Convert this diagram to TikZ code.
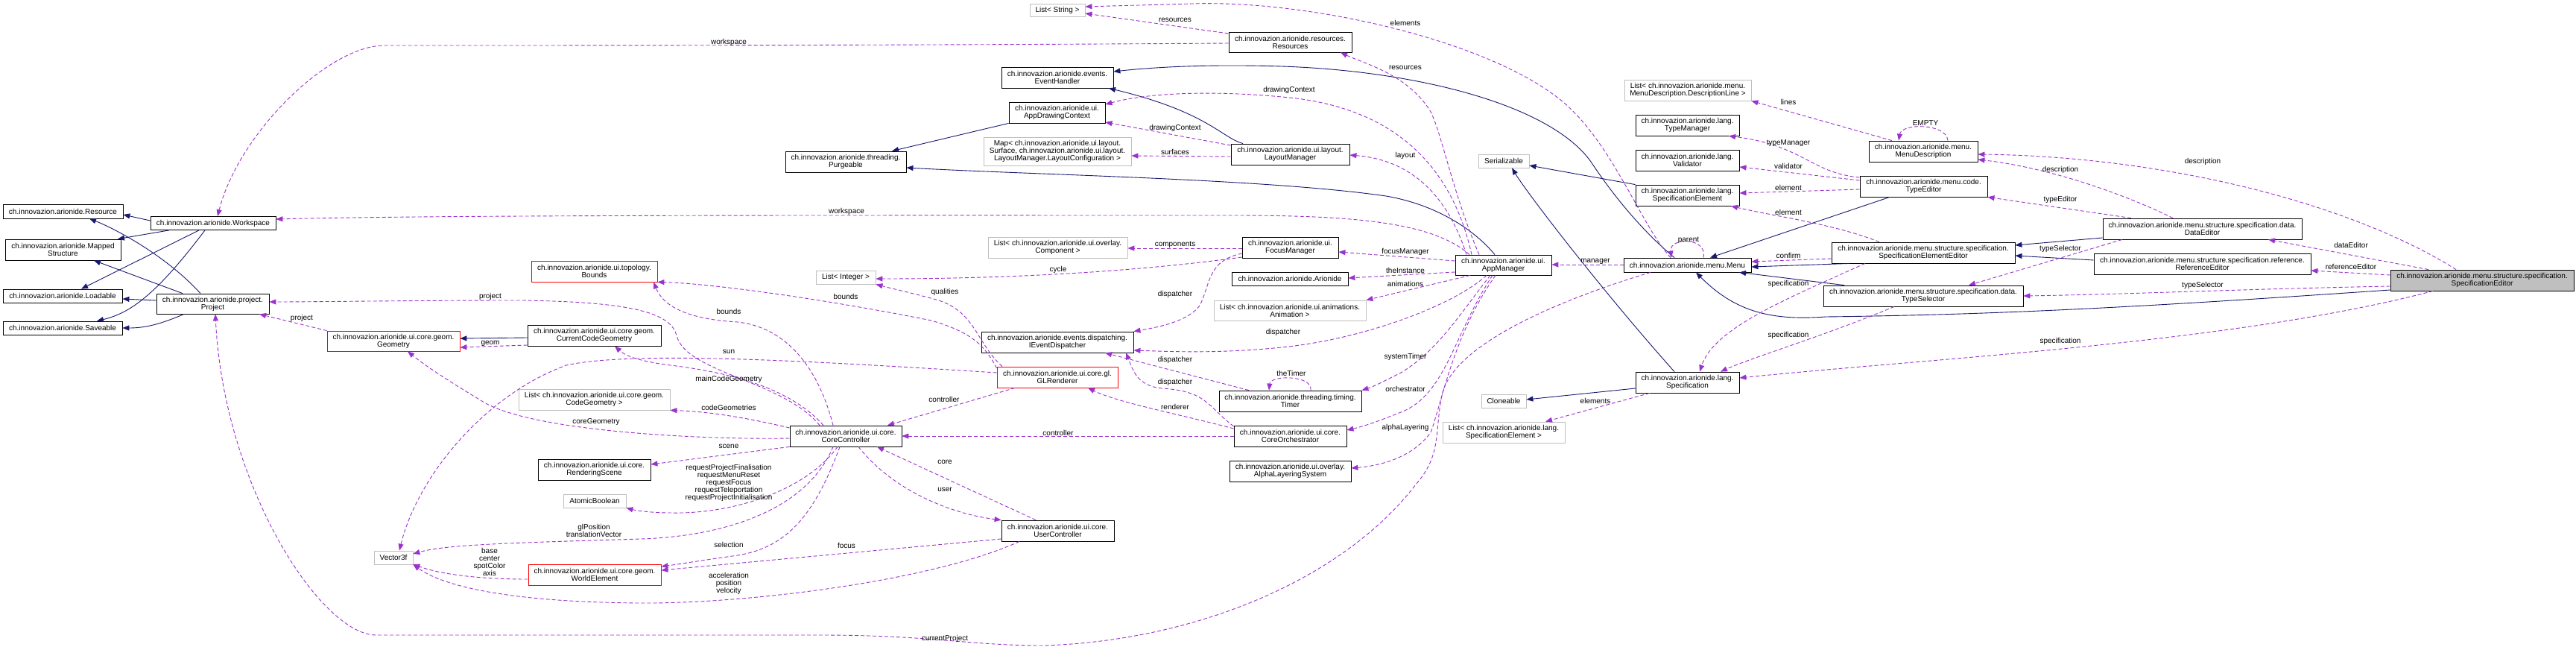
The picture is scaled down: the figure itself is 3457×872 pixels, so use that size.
\documentclass[tikz,border=0pt]{standalone}
\usepackage{fontspec}
\setmainfont{Liberation Sans}
\usetikzlibrary{arrows.meta}
\definecolor{navy}{HTML}{191970}
\definecolor{purp}{HTML}{9A32CD}
\definecolor{grey75}{HTML}{BFBFBF}
\newcommand\lab{\fontsize{10}{10}\selectfont}
\newcommand\cn[6]{\node[#1,minimum width=#4pt,minimum height=#5pt] (#2) at (#3) {#6};}
\tikzset{
 cls/.style={draw=black, line width=0.8pt, fill=white, inner sep=0pt, align=center, font=\lab},
 gcls/.style={cls, draw=grey75},
 rcls/.style={cls, draw=red},
 scls/.style={cls, fill=grey75},
 inh/.style={draw=navy, line width=0.9pt, -{Triangle[length=9pt,width=7pt]}},
 dep/.style={draw=purp, line width=0.9pt, dash pattern=on 5pt off 3pt, -{Triangle[length=9pt,width=7pt]}},
 elab/.style={font=\lab, align=center, inner sep=0pt},
}
\begin{document}
\begin{tikzpicture}[x=1pt,y=-1pt]
\fill[white] (0,0) rectangle (3457,872);
\useasboundingbox (0,0) rectangle (3457,872);
\cn{cls}{Resource}{84.5,283.5}{161}{19}{ch.innovazion.arionide.Resource}
\cn{cls}{Workspace}{286,299.5}{168}{18}{ch.innovazion.arionide.Workspace}
\cn{cls}{MappedStructure}{84.5,335}{155}{28}{ch.innovazion.arionide.Mapped\\Structure}
\cn{cls}{Loadable}{84,397}{160}{18}{ch.innovazion.arionide.Loadable}
\cn{cls}{Saveable}{84,440}{160}{18}{ch.innovazion.arionide.Saveable}
\cn{cls}{Project}{285.5,407.5}{151}{27}{ch.innovazion.arionide.project.\\Project}
\cn{rcls}{Geometry}{528,457.5}{178}{27}{ch.innovazion.arionide.ui.core.geom.\\Geometry}
\cn{cls}{CurrentCodeGeometry}{797.5,450}{179}{28}{ch.innovazion.arionide.ui.core.geom.\\CurrentCodeGeometry}
\cn{rcls}{Bounds}{797.5,364}{169}{28}{ch.innovazion.arionide.ui.topology.\\Bounds}
\cn{gcls}{ListCodeGeometry}{797.5,536}{203}{28}{List< ch.innovazion.arionide.ui.core.geom.\\CodeGeometry >}
\cn{gcls}{Vector3f}{528,748}{52}{18}{Vector3f}
\cn{cls}{RenderingScene}{797.5,630}{151}{28}{ch.innovazion.arionide.ui.core.\\RenderingScene}
\cn{gcls}{AtomicBoolean}{798,672}{84}{18}{AtomicBoolean}
\cn{rcls}{WorldElement}{798,771}{178}{28}{ch.innovazion.arionide.ui.core.geom.\\WorldElement}
\cn{gcls}{ListString}{1419,13.5}{74}{17}{List< String >}
\cn{cls}{Resources}{1731.5,56.5}{165}{27}{ch.innovazion.arionide.resources.\\Resources}
\cn{cls}{EventHandler}{1419,104}{150}{28}{ch.innovazion.arionide.events.\\EventHandler}
\cn{cls}{AppDrawingContext}{1418.5,151}{129}{28}{ch.innovazion.arionide.ui.\\AppDrawingContext}
\cn{gcls}{MapSurf}{1419,203}{198}{38}{Map< ch.innovazion.arionide.ui.layout.\\Surface, ch.innovazion.arionide.ui.layout.\\LayoutManager.LayoutConfiguration >}
\cn{cls}{Purgeable}{1135,217}{162}{28}{ch.innovazion.arionide.threading.\\Purgeable}
\cn{cls}{LayoutManager}{1731.5,207}{159}{28}{ch.innovazion.arionide.ui.layout.\\LayoutManager}
\cn{gcls}{ListComponent}{1419.5,332}{187}{28}{List< ch.innovazion.arionide.ui.overlay.\\Component >}
\cn{cls}{FocusManager}{1731.5,332}{129}{28}{ch.innovazion.arionide.ui.\\FocusManager}
\cn{gcls}{ListInteger}{1135,372}{80}{18}{List< Integer >}
\cn{cls}{Arionide}{1731,374}{156}{18}{ch.innovazion.arionide.Arionide}
\cn{gcls}{ListAnimation}{1731,416.5}{204}{27}{List< ch.innovazion.arionide.ui.animations.\\Animation >}
\cn{cls}{IEventDispatcher}{1419,459}{204}{28}{ch.innovazion.arionide.events.dispatching.\\IEventDispatcher}
\cn{rcls}{GLRenderer}{1419,506}{162}{28}{ch.innovazion.arionide.ui.core.gl.\\GLRenderer}
\cn{cls}{Timer}{1731.5,538}{191}{28}{ch.innovazion.arionide.threading.timing.\\Timer}
\cn{cls}{CoreController}{1135,585}{150}{28}{ch.innovazion.arionide.ui.core.\\CoreController}
\cn{cls}{CoreOrchestrator}{1731.5,585}{151}{28}{ch.innovazion.arionide.ui.core.\\CoreOrchestrator}
\cn{cls}{AlphaLayering}{1731.5,632}{163}{28}{ch.innovazion.arionide.ui.overlay.\\AlphaLayeringSystem}
\cn{cls}{UserController}{1419.5,712}{151}{28}{ch.innovazion.arionide.ui.core.\\UserController}
\cn{cls}{AppManager}{2017.5,355.5}{129}{27}{ch.innovazion.arionide.ui.\\AppManager}
\cn{gcls}{Serializable}{2018,216}{68}{18}{Serializable}
\cn{gcls}{ListDescLine}{2265,121}{170}{28}{List< ch.innovazion.arionide.menu.\\MenuDescription.DescriptionLine >}
\cn{cls}{TypeManager}{2264.5,168}{139}{28}{ch.innovazion.arionide.lang.\\TypeManager}
\cn{cls}{Validator}{2264.5,215}{139}{28}{ch.innovazion.arionide.lang.\\Validator}
\cn{cls}{SpecificationElement}{2264.5,262}{139}{28}{ch.innovazion.arionide.lang.\\SpecificationElement}
\cn{cls}{MenuDescription}{2581,203}{146}{28}{ch.innovazion.arionide.menu.\\MenuDescription}
\cn{cls}{TypeEditor}{2581.5,250}{171}{28}{ch.innovazion.arionide.menu.code.\\TypeEditor}
\cn{cls}{Menu}{2264.5,355.5}{171}{19}{ch.innovazion.arionide.menu.Menu}
\cn{cls}{SpecElementEditor}{2581,339}{246}{28}{ch.innovazion.arionide.menu.structure.specification.\\SpecificationElementEditor}
\cn{cls}{TypeSelector}{2581,397}{268}{28}{ch.innovazion.arionide.menu.structure.specification.data.\\TypeSelector}
\cn{cls}{Specification}{2264.5,513}{139}{28}{ch.innovazion.arionide.lang.\\Specification}
\cn{gcls}{Cloneable}{2018,538}{60}{18}{Cloneable}
\cn{gcls}{ListSpecElement}{2018,580}{164}{28}{List< ch.innovazion.arionide.lang.\\SpecificationElement >}
\cn{cls}{DataEditor}{2955.5,307}{267}{28}{ch.innovazion.arionide.menu.structure.specification.data.\\DataEditor}
\cn{cls}{ReferenceEditor}{2955.5,354}{291}{28}{ch.innovazion.arionide.menu.structure.specification.reference.\\ReferenceEditor}
\cn{scls}{SpecEditor}{3331,376}{246}{28}{ch.innovazion.arionide.menu.structure.specification.\\SpecificationEditor}
% ---------- inheritance ----------
\draw[inh] (Workspace.west |- 0,296) -- (Resource.east |- 0,288);
\draw[inh] (Workspace.south -| 227,0) -- (MappedStructure.north -| 158,0);
\draw[inh] (Workspace.south -| 267,0) -- (Loadable.north -| 109,0);
\draw[inh] (Workspace.south -| 275,0) .. controls (210,395) and (175,420) .. (Saveable.north -| 130,0);
\draw[inh] (Project.north -| 269,0) .. controls (220,340) and (150,305) .. (Resource.south -| 120,0);
\draw[inh] (Project.north -| 245,0) -- (MappedStructure.south -| 126,0);
\draw[inh] (Project.west |- 0,403) -- (Loadable.east |- 0,401);
\draw[inh] (Project.south -| 247,0) .. controls (215,435) and (195,440) .. (Saveable.east |- 0,440);
\draw[inh] (AppDrawingContext.south west) -- (Purgeable.north -| 1197,0);
\draw[inh] (LayoutManager.north -| 1668,0) .. controls (1640,185) and (1620,150) .. (EventHandler.south -| 1488,0);
\draw[inh] (Menu.north -| 2247,0) .. controls (2210,315) and (2170,270) .. (2135,217) .. controls (2080,140) and (1900,95) .. (1720,89) .. controls (1620,86) and (1550,90) .. (EventHandler.east |- 0,96);
\draw[inh] (AppManager.north -| 2006,0) .. controls (1980,310) and (1930,275) .. (1860,263) .. controls (1700,240) and (1400,235) .. (Purgeable.east |- 0,225);
\draw[inh] (Specification.north -| 2247,0) .. controls (2150,390) and (2050,260) .. (Serializable.south -| 2029,0);
\draw[inh] (SpecificationElement.north west) -- (Serializable.east |- 0,222);
\draw[inh] (Specification.west |- 0,521) -- (Cloneable.east |- 0,536);
\draw[inh] (TypeEditor.south -| 2536,0) -- (Menu.north -| 2295,0);
\draw[inh] (SpecElementEditor.south -| 2483,0) -- (Menu.east |- 0,358);
\draw[inh] (TypeSelector.north -| 2475,0) -- (Menu.south -| 2334,0);
\draw[inh] (SpecEditor.west |- 0,389) .. controls (2900,410) and (2700,422) .. (2450,425) .. controls (2380,430) and (2330,420) .. (Menu.south -| 2276,0);
\draw[inh] (DataEditor.west |- 0,319) -- (SpecElementEditor.east |- 0,329);
\draw[inh] (ReferenceEditor.west |- 0,349) -- (SpecElementEditor.east |- 0,343);
\draw[inh] (CurrentCodeGeometry.west |- 0,453) -- (Geometry.east |- 0,454);
% ---------- usage ----------
\draw[dep] (Resources.west |- 0,45) -- (ListString.east |- 0,18);
\node[elab] (l1) at (1577,27) {resources};
\draw[dep] (Menu.north -| 2242,0) .. controls (2200,300) and (2160,180) .. (2085,127) .. controls (1980,50) and (1750,0) .. (1600,5) .. controls (1530,7) and (1490,8) .. (ListString.east |- 0,9);
\node[elab] (l2) at (1886,31) {elements};
\draw[dep] (AppManager.north -| 1985,0) .. controls (1950,260) and (1935,180) .. (1920,150) .. controls (1890,100) and (1830,85) .. (Resources.south -| 1799,0);
\node[elab] (l3) at (1886,91) {resources};
\draw[dep] (AppManager.north -| 1975,0) .. controls (1950,230) and (1880,150) .. (1740,132) .. controls (1650,122) and (1550,122) .. (AppDrawingContext.east |- 0,140);
\node[elab] (l4) at (1730,121) {drawingContext};
\draw[dep] (LayoutManager.west |- 0,195) -- (AppDrawingContext.east |- 0,164);
\node[elab] (l5) at (1577,172) {drawingContext};
\draw[dep] (LayoutManager.west |- 0,210) -- (MapSurf.east |- 0,209);
\node[elab] (l6) at (1577,204) {surfaces};
\draw[dep] (AppManager.north -| 1968,0) .. controls (1945,270) and (1900,215) .. (LayoutManager.east |- 0,208);
\node[elab] (l7) at (1886,209) {layout};
\draw[dep] (Resources.west |- 0,58) .. controls (1200,61) and (800,61) .. (516,61) .. controls (440,61) and (320,180) .. (Workspace.north -| 292,0);
\node[elab] (l8) at (978,57) {workspace};
\draw[dep] (AppManager.north -| 1972,0) .. controls (1920,295) and (1800,289) .. (1650,289) .. controls (1200,289) and (600,288) .. (Workspace.east |- 0,294);
\node[elab] (l9) at (1136,284) {workspace};
\draw[dep] (FocusManager.west |- 0,333) -- (ListComponent.east |- 0,333);
\node[elab] (l10) at (1577,328) {components};
\draw[dep] (FocusManager.west |- 0,345) .. controls (1520,365) and (1350,374) .. (ListInteger.east |- 0,374);
\node[elab] (l11) at (1420,362) {cycle};
\draw[dep] (FocusManager.west |- 0,340) .. controls (1620,350) and (1625,380) .. (1610,410) .. controls (1595,430) and (1560,438) .. (IEventDispatcher.north east);
\node[elab] (l12) at (1577,395) {dispatcher};
\draw[dep] (AppManager.west |- 0,350) -- (FocusManager.east |- 0,338);
\node[elab] (l13) at (1886,338) {focusManager};
\draw[dep] (AppManager.west |- 0,365) -- (Arionide.east |- 0,373);
\node[elab] (l14) at (1886,363) {theInstance};
\draw[dep] (AppManager.south -| 1973,0) -- (ListAnimation.north east);
\node[elab] (l15) at (1886,381) {animations};
\draw[dep] (AppManager.south -| 1995,0) .. controls (1950,410) and (1830,455) .. (1720,466) .. controls (1640,474) and (1580,472) .. (IEventDispatcher.east |- 0,470);
\node[elab] (l16) at (1722,446) {dispatcher};
\draw[dep] (AppManager.south -| 2000,0) .. controls (1960,420) and (1930,470) .. (1880,500) .. controls (1860,510) and (1845,518) .. (Timer.north east);
\node[elab] (l17) at (1886,479) {systemTimer};
\draw[dep] (AppManager.south -| 2003,0) .. controls (1950,450) and (1940,530) .. (1880,553) .. controls (1850,565) and (1830,572) .. (CoreOrchestrator.east |- 0,577);
\node[elab] (l18) at (1886,522) {orchestrator};
\draw[dep] (AppManager.south -| 2007,0) .. controls (1950,450) and (1935,540) .. (1920,580) .. controls (1895,615) and (1850,625) .. (AlphaLayering.east |- 0,628);
\node[elab] (l19) at (1886,574) {alphaLayering};
\draw[dep] (Menu.south -| 2215,0) .. controls (2100,400) and (1950,460) .. (1935,530) .. controls (1925,580) and (1935,610) .. (1900,650) .. controls (1800,780) and (1600,860) .. (1400,866) .. controls (1300,866) and (1250,852) .. (1100,852) -- (505,852) .. controls (430,852) and (300,650) .. (Project.south -| 289,0);
\node[elab] (l20) at (1268,857) {currentProject};
\draw[dep] (Menu.west |- 0,355) -- (AppManager.east |- 0,355);
\node[elab] (l21) at (2141,351) {manager};
\draw[dep] (Menu.north -| 2286,0) .. controls (2292,318) and (2240,318) .. (Menu.north -| 2243,0);
\node[elab] (l22) at (2266,322) {parent};
\draw[dep] (SpecElementEditor.south -| 2503,0) .. controls (2400,400) and (2300,440) .. (Specification.north -| 2281,0);
\node[elab] (l23) at (2400,381) {specification};
\draw[dep] (TypeSelector.south -| 2542,0) .. controls (2450,450) and (2350,480) .. (Specification.north -| 2309,0);
\node[elab] (l24) at (2400,450) {specification};
\draw[dep] (SpecEditor.south -| 3265,0) .. controls (3000,460) and (2600,480) .. (Specification.east |- 0,507);
\node[elab] (l25) at (2765,458) {specification};
\draw[dep] (Specification.south -| 2214,0) -- (ListSpecElement.north -| 2074,0);
\node[elab] (l26) at (2141,538) {elements};
\draw[dep] (SpecEditor.north -| 3296,0) .. controls (3150,270) and (2900,210) .. (MenuDescription.east |- 0,207);
\node[elab] (l27) at (2956,217) {description};
\draw[dep] (SpecEditor.north -| 3259,0) -- (DataEditor.south -| 3044,0);
\node[elab] (l28) at (3155,329) {dataEditor};
\draw[dep] (SpecEditor.west |- 0,369) -- (ReferenceEditor.east |- 0,363);
\node[elab] (l29) at (3155,358) {referenceEditor};
\draw[dep] (SpecEditor.west |- 0,384) .. controls (3000,388) and (2850,395) .. (TypeSelector.east |- 0,397);
\node[elab] (l30) at (2956,383) {typeSelector};
\draw[dep] (DataEditor.south -| 2848,0) -- (TypeSelector.north -| 2642,0);
\node[elab] (l31) at (2765,334) {typeSelector};
\draw[dep] (DataEditor.north -| 2860,0) -- (TypeEditor.south east);
\node[elab] (l32) at (2765,268) {typeEditor};
\draw[dep] (DataEditor.north -| 2916,0) .. controls (2850,260) and (2750,225) .. (MenuDescription.east |- 0,214);
\node[elab] (l33) at (2765,228) {description};
\draw[dep] (MenuDescription.north -| 2539,0) -- (ListDescLine.south east);
\node[elab] (l34) at (2400,137) {lines};
\draw[dep] (MenuDescription.north -| 2614,0) .. controls (2612,165) and (2552,165) .. (MenuDescription.north -| 2548,0);
\node[elab] (l35) at (2584,165) {EMPTY};
\draw[dep] (TypeEditor.west |- 0,238) .. controls (2430,232) and (2420,195) .. (TypeManager.south -| 2320,0);
\node[elab] (l36) at (2400,192) {typeManager};
\draw[dep] (TypeEditor.west |- 0,242) -- (Validator.east |- 0,224);
\node[elab] (l37) at (2400,223) {validator};
\draw[dep] (TypeEditor.west |- 0,254) -- (SpecificationElement.east |- 0,259);
\node[elab] (l38) at (2400,252) {element};
\draw[dep] (SpecElementEditor.north -| 2522,0) .. controls (2460,300) and (2380,290) .. (SpecificationElement.south -| 2323,0);
\node[elab] (l39) at (2400,285) {element};
\draw[dep] (SpecElementEditor.west |- 0,347) -- (Menu.east |- 0,351);
\node[elab] (l40) at (2400,343) {confirm};
% lower left
\draw[dep] (Geometry.north west) -- (Project.south -| 348,0);
\node[elab] (l41) at (405,427) {project};
\draw[dep] (CurrentCodeGeometry.west |- 0,463) -- (Geometry.east |- 0,466);
\node[elab] (l42) at (658,461) {geom};
\draw[dep] (CoreController.north -| 1100,0) .. controls (1050,510) and (920,500) .. (908,450) .. controls (900,420) and (850,405) .. (700,403) .. controls (550,403) and (420,405) .. (Project.east |- 0,405);
\node[elab] (l43) at (658,398) {project};
\draw[dep] (GLRenderer.west |- 0,494) .. controls (1320,460) and (1300,445) .. (1250,430) .. controls (1100,400) and (950,380) .. (Bounds.south east);
\node[elab] (l44) at (1135,398) {bounds};
\draw[dep] (GLRenderer.north -| 1345,0) .. controls (1310,460) and (1310,420) .. (1260,403) .. controls (1220,392) and (1200,388) .. (ListInteger.south east);
\node[elab] (l45) at (1268,392) {qualities};
\draw[dep] (GLRenderer.west |- 0,500) .. controls (1100,485) and (850,470) .. (760,490) .. controls (650,530) and (560,640) .. (Vector3f.north -| 536,0);
\node[elab] (l46) at (978,472) {sun};
\draw[dep] (CoreController.north -| 1118,0) .. controls (1100,500) and (1060,440) .. (990,432) .. controls (920,428) and (890,410) .. (Bounds.south -| 877,0);
\node[elab] (l47) at (978,418) {bounds};
\draw[dep] (CoreController.north -| 1105,0) .. controls (1060,520) and (980,500) .. (900,490) .. controls (860,485) and (840,478) .. (CurrentCodeGeometry.south -| 825,0);
\node[elab] (l48) at (978,509) {mainCodeGeometry};
\draw[dep] (CoreController.west |- 0,574) .. controls (1000,560) and (950,552) .. (ListCodeGeometry.south east);
\node[elab] (l49) at (978,547) {codeGeometries};
\draw[dep] (CoreController.west |- 0,588) .. controls (950,590) and (720,580) .. (650,540) .. controls (600,510) and (570,490) .. (Geometry.south -| 547,0);
\node[elab] (l50) at (800,566) {coreGeometry};
\draw[dep] (CoreController.south west) -- (RenderingScene.east |- 0,623);
\node[elab] (l51) at (978,599) {scene};
\draw[dep] (CoreController.south -| 1124,0) .. controls (1080,660) and (980,690) .. (900,688) .. controls (870,688) and (850,684) .. (AtomicBoolean.south east);
\node[elab] (l52) at (978,648) {requestProjectFinalisation\\requestMenuReset\\requestFocus\\requestTeleportation\\requestProjectInitialisation};
\draw[dep] (CoreController.south -| 1118,0) .. controls (1080,690) and (960,720) .. (860,723) .. controls (700,728) and (600,730) .. (Vector3f.east |- 0,743);
\node[elab] (l53) at (797,712) {glPosition\\translationVector};
\draw[dep] (CoreController.south -| 1127,0) .. controls (1090,700) and (1050,735) .. (990,745) .. controls (940,752) and (910,757) .. (WorldElement.east |- 0,760);
\node[elab] (l54) at (978,731) {selection};
\draw[dep] (UserController.west |- 0,723) -- (WorldElement.east |- 0,765);
\node[elab] (l55) at (1136,732) {focus};
\draw[dep] (UserController.south -| 1368,0) .. controls (1250,780) and (1000,810) .. (860,809) .. controls (700,808) and (600,790) .. (Vector3f.south east);
\node[elab] (l56) at (978,783) {acceleration\\position\\velocity};
\draw[dep] (WorldElement.west |- 0,777) .. controls (640,777) and (590,770) .. (Vector3f.east |- 0,757);
\node[elab] (l57) at (657,754) {base\\center\\spotColor\\axis};
\draw[dep] (UserController.north -| 1390,0) -- (CoreController.south -| 1177,0);
\node[elab] (l58) at (1268,620) {core};
\draw[dep] (CoreController.south -| 1152,0) .. controls (1200,660) and (1280,690) .. (UserController.north west);
\node[elab] (l59) at (1268,657) {user};
\draw[dep] (GLRenderer.south -| 1362,0) -- (CoreController.north -| 1191,0);
\node[elab] (l60) at (1267,536) {controller};
\draw[dep] (CoreOrchestrator.west |- 0,585) -- (CoreController.east |- 0,585);
\node[elab] (l61) at (1420,581) {controller};
\draw[dep] (CoreOrchestrator.west |- 0,575) .. controls (1580,555) and (1500,540) .. (GLRenderer.south -| 1460,0);
\node[elab] (l62) at (1577,546) {renderer};
\draw[dep] (CoreOrchestrator.west |- 0,572) .. controls (1620,545) and (1620,525) .. (1560,521) .. controls (1525,518) and (1520,495) .. (IEventDispatcher.south -| 1511,0);
\node[elab] (l63) at (1577,513) {dispatcher};
\draw[dep] (Timer.north -| 1676,0) -- (IEventDispatcher.south -| 1483,0);
\node[elab] (l64) at (1577,483) {dispatcher};
\draw[dep] (Timer.north -| 1759,0) .. controls (1762,503) and (1705,503) .. (Timer.north -| 1703,0);
\node[elab] (l65) at (1733,501) {theTimer};
\end{tikzpicture}
\end{document}
